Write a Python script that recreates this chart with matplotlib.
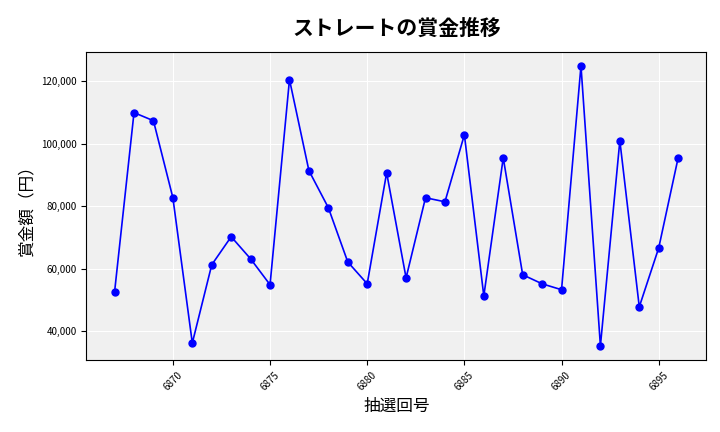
import matplotlib.pyplot as plt
from matplotlib.ticker import FuncFormatter

plt.rcParams['font.family'] = ['Noto Sans CJK JP', 'DejaVu Sans']

draws = list(range(6867, 6897))
prizes = [52500, 110000, 107400, 82700, 36100, 61200, 70200, 63100, 54800, 120600,
          91400, 79500, 62100, 55100, 90700, 57000, 82700, 81400, 102900, 51200,
          95500, 58000, 55100, 53200, 125000, 35200, 101000, 47700, 66600, 95500]

fig = plt.figure(figsize=(7.2, 4.32), dpi=100)
ax = fig.add_axes([0.12, 0.167, 0.861, 0.713])
ax.set_facecolor("#f0f0f0")
ax.grid(True, color="white", linewidth=0.8)
ax.set_axisbelow(True)
ax.plot(draws, prizes, marker="o", color="blue", linewidth=1.2, markersize=5)

ax.set_title("ストレートの賞金推移", fontsize=15, fontweight="bold", pad=12)
ax.set_xlabel("抽選回号", fontsize=12)
ax.set_ylabel("賞金額（円）", fontsize=12)
ax.yaxis.set_major_formatter(FuncFormatter(lambda v, p: f"{int(v):,}"))
ax.tick_params(axis="x", rotation=45, labelsize=7)
ax.tick_params(axis="y", labelsize=7)

plt.savefig("out.png", dpi=100)
